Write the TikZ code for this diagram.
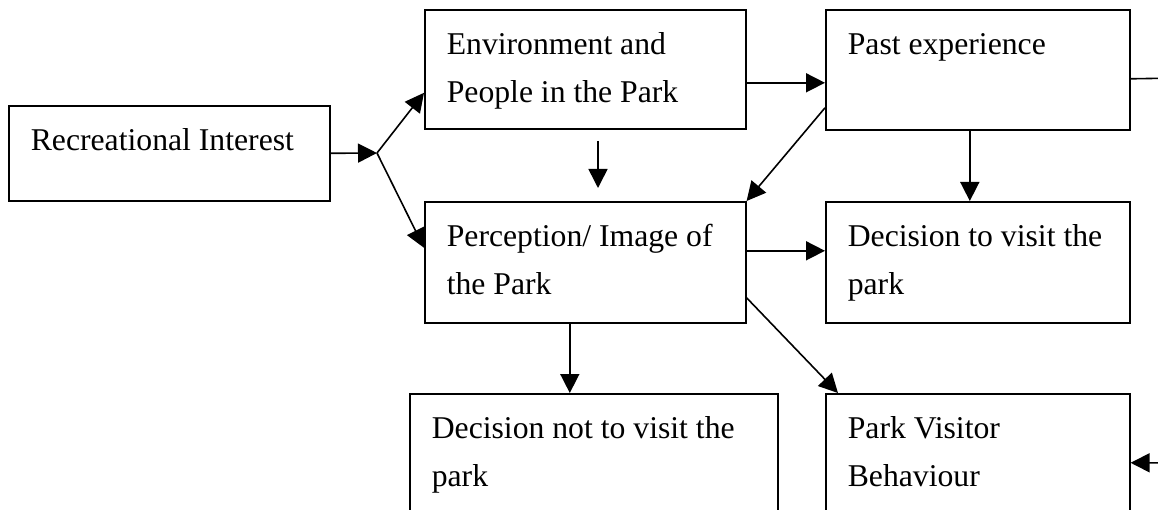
\documentclass[tikz,border=0pt]{standalone}
\usepackage{fontspec}
\setmainfont{Liberation Serif}
\usetikzlibrary{arrows.meta}

% text inside a box: first baseline 45pt below the top, 22pt from the left
\newcommand{\celltext}[3]{\parbox[c][#2][t]{#1}{\raggedright\leftskip=22pt\rule{0pt}{45pt}#3}}

\tikzset{
    block/.style={draw, line width=1.6pt, inner sep=0pt, anchor=north west},
    flow/.style={line width=1.6pt, -{Triangle[length=19pt,width=19pt]}}
}

\begin{document}
\begin{tikzpicture}[x=1pt, y=-1pt, font=\fontsize{31.7}{47.5}\selectfont]
        % Page size
        \useasboundingbox (0,0) rectangle (1158,510);
        \clip (0,0) rectangle (1158,510);

        % Boxes
        \node[block] (rec) at (8,105) {\celltext{321pt}{95pt}{Recreational Interest}};
        \node[block] (env) at (424,9) {\celltext{321pt}{119pt}{Environment and\\People in the Park}};
        \node[block] (past) at (825,9) {\celltext{304pt}{120pt}{Past experience}};
        \node[block] (perc) at (424,201) {\celltext{321pt}{121pt}{Perception/ Image of\\the Park}};
        \node[block] (visit) at (825,201) {\celltext{304pt}{121pt}{Decision to visit the\\park}};
        \node[block] (novisit) at (409,393) {\celltext{368pt}{150pt}{Decision not to visit the\\park}};
        \node[block] (behav) at (825,393) {\celltext{304pt}{150pt}{Park Visitor\\Behaviour}};

        % Free ends
        \coordinate (fork) at (377,153);
        \coordinate (gapA) at (598,141);
        \coordinate (gapB) at (598,188);
        \coordinate (loop) at (1180,78);

        % Arrows
        \draw[flow] (rec.east) -- (fork);
        \draw[flow] (fork) -- ([yshift=-23.5pt]env.west);
        \draw[flow] (fork) -- ([yshift=14.5pt]perc.west);
        \draw[flow] ([yshift=-13.5pt]env.east) -- ([yshift=-13.5pt]env.east -| past.west);
        \draw[flow] ([yshift=-38pt]past.west) -- (perc.north east);
        \draw[flow] (gapA) -- (gapB);
        \draw[flow] ([xshift=-8pt]past.south) -- ([xshift=-8pt]visit.north);
        \draw[flow] ([yshift=11.5pt]perc.east) -- ([yshift=11.5pt]perc.east -| visit.west);
        \draw[flow] ([yshift=-35.5pt]perc.east) -- ([xshift=13pt]behav.north west);
        \draw[flow] ([xshift=-15.5pt]perc.south) -- ([xshift=-15.5pt]perc.south |- novisit.north);
        \draw[flow] ([yshift=-9pt]past.east) -- (loop) |- ([yshift=6pt]behav.east);
    \end{tikzpicture}
\end{document}
